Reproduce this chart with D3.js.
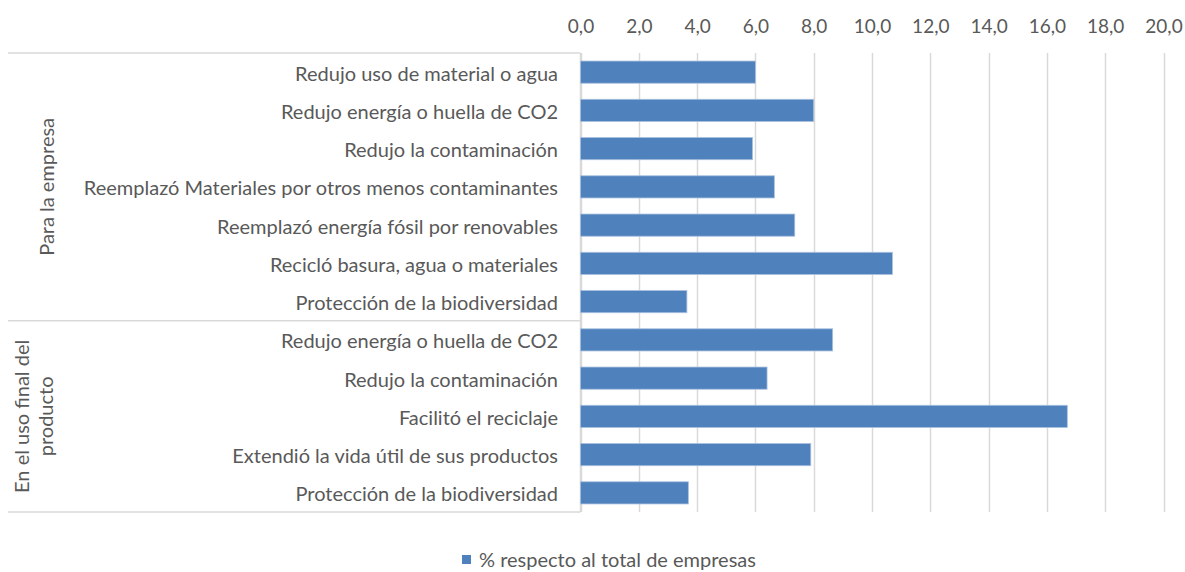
<!DOCTYPE html>
<html><head><meta charset="utf-8">
<script src="https://cdn.jsdelivr.net/npm/d3@7"></script>
<style>body{margin:0;background:#fff}svg{display:block}text{font-family:Lato,"Open Sans",sans-serif;fill:#595959}</style>
</head><body><svg id="c" width="1185" height="572"></svg>
<script>
const categories = ["Redujo uso de material o agua","Redujo energía o huella de CO2","Redujo la contaminación","Reemplazó Materiales por otros menos contaminantes","Reemplazó energía fósil por renovables","Recicló basura, agua o materiales","Protección de la biodiversidad","Redujo energía o huella de CO2","Redujo la contaminación","Facilitó el reciclaje","Extendió la vida útil de sus productos","Protección de la biodiversidad"];
const groups = ["Para la empresa","Para la empresa","Para la empresa","Para la empresa","Para la empresa","Para la empresa","Para la empresa","En el uso final del producto","En el uso final del producto","En el uso final del producto","En el uso final del producto","En el uso final del producto"];
const groupLabels = [["Para la empresa"],["En el uso final del","producto"]];
const values = [6.0, 8.0, 5.9, 6.65, 7.35, 10.7, 3.65, 8.65, 6.4, 16.7, 7.9, 3.7];
const ticks = [0,2,4,6,8,10,12,14,16,18,20];
const seriesName = "% respecto al total de empresas";

const svg = d3.select("#c");
const L = 580.5, R = 1163.5, T = 53, B = 512;
const x = d3.scaleLinear().domain([0,20]).range([L,R]);
const keys = categories.map((c,i)=>i);
const y = d3.scaleBand().domain(keys).range([T,B]).paddingInner(0.42).paddingOuter(0.21);
const loc = d3.formatLocale({decimal:",",thousands:".",grouping:[3],currency:["","€"]});
const fmt = loc.format(".1f");

// gridlines
svg.append("g").selectAll("line").data(ticks).join("line")
  .attr("x1",d=>Math.round(x(d))+0.5).attr("x2",d=>Math.round(x(d))+0.5)
  .attr("y1",T).attr("y2",B).attr("stroke","#d9d9d9").attr("stroke-width",1.5);

// top axis labels
const ax = svg.append("g").attr("transform",`translate(0,${T})`)
  .call(d3.axisTop(x).tickValues(ticks).tickFormat(fmt).tickSize(0).tickPadding(20));
ax.select(".domain").remove();
ax.selectAll("text").attr("font-size",19).attr("fill","#595959").style("font-family","Lato");

// category axis frame
const frame = svg.append("g").attr("stroke","#d9d9d9").attr("stroke-width",1.5);
const divY = [T, (y(6)+y.bandwidth()+y(7))/2, B];
divY.forEach(v=>frame.append("line").attr("x1",8).attr("x2",L).attr("y1",v).attr("y2",v));
frame.append("line").attr("x1",L).attr("x2",L).attr("y1",T).attr("y2",B);

// bars
svg.append("g").selectAll("rect").data(values).join("rect")
  .attr("x",x(0)).attr("y",(d,i)=>y(i)).attr("width",d=>x(d)-x(0)).attr("height",y.bandwidth())
  .attr("fill","#4f81bd").attr("stroke","#a9c0df").attr("stroke-width",0.8);

// category labels
svg.append("g").selectAll("text").data(categories).join("text")
  .attr("x",558).attr("y",(d,i)=>y(i)+y.bandwidth()/2).attr("dy","0.42em")
  .attr("text-anchor","end").attr("font-size",20).text(d=>d);

// group labels
const gCenters = [(divY[0]+divY[1])/2,(divY[1]+divY[2])/2];
const gx = [[47],[22,46]];
groupLabels.forEach((lines,gi)=>{
  lines.forEach((t,li)=>{
    svg.append("text").attr("transform",`translate(${gx[gi][li]},${gCenters[gi]}) rotate(-90)`)
      .attr("text-anchor","middle").attr("dy","0.35em").attr("font-size",20).text(t);
  });
});

// legend
const lg = svg.append("g").attr("transform","translate(462,555)");
lg.append("rect").attr("width",9).attr("height",9).attr("fill","#4f81bd");
lg.append("text").attr("x",17).attr("y",5).attr("dy","0.36em").attr("font-size",20).text(seriesName);
</script></body></html>
